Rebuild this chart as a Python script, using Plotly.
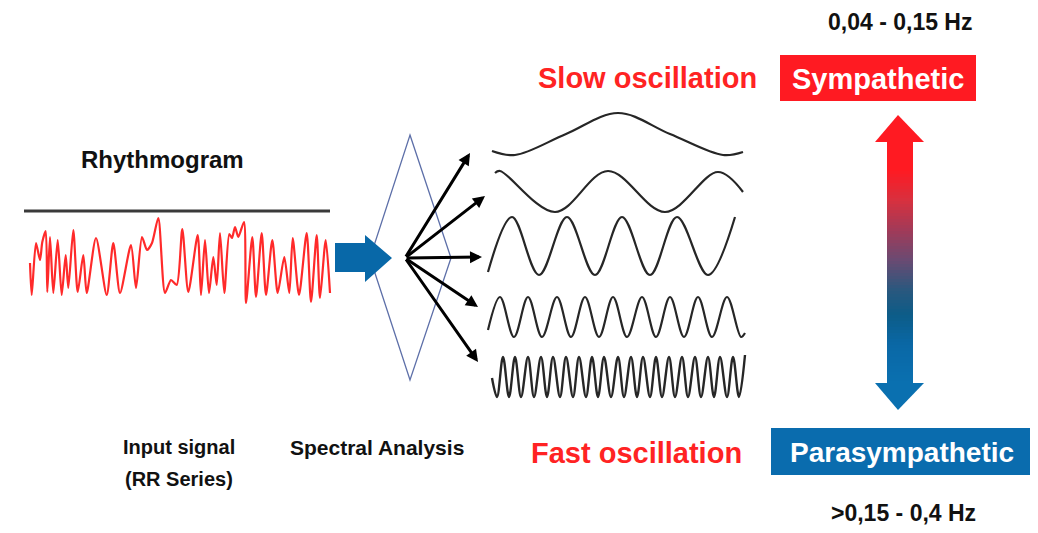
import plotly.graph_objects as go

W, H = 1038, 533
FONT = "Liberation Sans, Arial, sans-serif"

# ---------------- data ----------------
rr_x = [30, 31.7, 36, 40, 42.3, 45.7, 47.3, 50, 53.3, 57.7,
        61.7, 65.7, 68.3, 73.3, 77.7, 83.3, 86.7, 96, 106.7, 113.3,
        120, 131, 136, 142, 147, 152, 158.3, 165, 171, 176.7,
        182.3, 188.3, 197.7, 201, 205, 209, 213.3, 216.7, 220, 224.3,
        229.3, 232, 235, 238.3, 244, 246, 252.3, 256, 261.7, 266,
        272.3, 277.7, 284.3, 289.3, 292.7, 299, 306.7, 311, 316.7, 320,
        325.7, 330]
rr_y = [263, 295, 243, 260, 242, 231, 292, 237, 293, 240,
        295, 255, 288, 230, 292, 255, 293, 238, 295, 243,
        293, 245, 288, 237, 250, 243, 218, 293, 280, 285,
        229, 292, 235, 295, 240, 293, 257, 285, 233, 293,
        234, 238, 227, 237, 222, 303, 237, 297, 233, 295,
        240, 293, 257, 293, 238, 295, 233, 302, 235, 298,
        240, 293]

wave1_x = [492, 515, 566, 618, 670, 723, 743]
wave1_y = [151, 155, 134, 113, 134, 155, 152]

wave2_x = [495, 500, 555, 608, 665, 718, 743]
wave2_y = [173, 171, 212, 171, 212, 172, 192]

wave3_x = [488, 512, 539, 567, 595, 622, 650, 677, 708, 735]
wave3_y = [272, 217, 275, 217, 275, 217, 275, 217, 275, 217]

wave4_x = [488, 500, 514, 528, 542, 557, 571, 585, 599, 613, 627,
           642, 656, 670, 684, 698, 712, 727, 741, 745]
wave4_y = [330, 297, 337, 297, 337, 297, 337, 297, 337, 297, 337,
           297, 337, 297, 337, 297, 337, 297, 337, 333]

wave5_x = [492, 497, 503, 509, 515, 521, 528, 534, 541, 547, 553, 560,
           566, 573, 579, 586, 592, 598, 604, 611, 618, 624, 631, 637,
           643, 650, 656, 662, 669, 675, 682, 688, 695, 701, 708, 714,
           720, 727, 733, 739, 745]
wave5_y = [378, 397, 357, 397, 357, 397, 357, 397, 357, 397, 357, 397,
           357, 397, 357, 397, 357, 397, 357, 397, 357, 397, 357, 397,
           357, 397, 357, 397, 357, 397, 357, 397, 357, 397, 357, 397,
           357, 397, 357, 397, 355]

waves = [(wave1_x, wave1_y), (wave2_x, wave2_y), (wave3_x, wave3_y),
         (wave4_x, wave4_y), (wave5_x, wave5_y)]

# spectral decomposition arrows: tips
fan_tip_x = [470, 485, 482, 478, 478]
fan_tip_y = [153, 196, 257, 307, 362]
fan_origin = (405, 258)

# ---------------- figure ----------------
fig = go.Figure()

fig.add_trace(go.Scatter(x=rr_x, y=rr_y, mode="lines",
                         line=dict(color="#ff2a2a", width=2.2, shape="spline", smoothing=0.7),
                         hoverinfo="skip"))
for i, (wx, wy) in enumerate(waves):
    fig.add_trace(go.Scatter(x=wx, y=wy, mode="lines",
                             line=dict(color="#262626", width=2.2 if i < 4 else 2.4,
                                       shape="spline", smoothing=1.0),
                             hoverinfo="skip"))

shapes = []
# prism (diamond) - drawn first so the block arrow covers it
shapes.append(dict(type="path", path="M410,135 L451,258 L410,380 L370,258 Z",
                   fillcolor="rgba(0,0,0,0)", line=dict(color="#5d6fa8", width=1.3)))
# rhythmogram baseline
shapes.append(dict(type="line", x0=24, x1=330, y0=211, y1=211,
                   line=dict(color="#3a3a3a", width=3)))
# blue block arrow
shapes.append(dict(type="path",
                   path="M335,243 L365,243 L365,235 L392,258 L365,282 L365,272 L335,272 Z",
                   fillcolor="#0868a8", line=dict(width=0)))
# sympathetic / parasympathetic boxes
shapes.append(dict(type="rect", x0=780, x1=976, y0=55, y1=101,
                   fillcolor="#ff1a22", line=dict(width=0)))
shapes.append(dict(type="rect", x0=771, x1=1030, y0=428, y1=475,
                   fillcolor="#0a6cae", line=dict(width=0)))

# gradient double arrow
stops = [(142, (255, 26, 34)), (170, (255, 26, 34)), (200, (216, 48, 62)),
         (230, (162, 58, 88)), (260, (106, 74, 114)), (290, (42, 88, 126)),
         (315, (12, 92, 136)), (345, (10, 104, 166)), (383, (10, 112, 176))]


def col_at(y):
    for (y0, c0), (y1, c1) in zip(stops[:-1], stops[1:]):
        if y0 <= y <= y1:
            t = (y - y0) / (y1 - y0) if y1 > y0 else 0
            return "rgb(%d,%d,%d)" % tuple(round(a + (b - a) * t) for a, b in zip(c0, c1))
    return "rgb(%d,%d,%d)" % stops[-1][1]


yy = 141
while yy < 384:
    shapes.append(dict(type="rect", x0=887, x1=913, y0=yy, y1=yy + 3.5,
                       fillcolor=col_at(yy + 1.5), line=dict(width=0)))
    yy += 3
shapes.append(dict(type="path", path="M875,142 L898,115 L924,142 Z",
                   fillcolor="rgb(255,26,34)", line=dict(width=0)))
shapes.append(dict(type="path", path="M875,383 L898,410 L924,383 Z",
                   fillcolor="rgb(10,112,176)", line=dict(width=0)))

annotations = []
for tx, ty in zip(fan_tip_x, fan_tip_y):
    annotations.append(dict(x=tx, y=ty, ax=fan_origin[0], ay=fan_origin[1],
                            xref="x", yref="y", axref="x", ayref="y",
                            text="", showarrow=True, arrowhead=2, arrowsize=0.8,
                            arrowwidth=3, arrowcolor="#000000"))


def label(text, x, y, size, color="#111111", bold=True):
    annotations.append(dict(x=x, y=y, xref="x", yref="y", showarrow=False,
                            text=("<b>%s</b>" % text) if bold else text,
                            xanchor="center", yanchor="middle",
                            font=dict(family=FONT, size=size, color=color)))


label("0,04 - 0,15 Hz", 900, 22, 23)
label("Slow oscillation", 647, 78, 29, color="#ff2323")
label("Sympathetic", 878, 79, 29, color="#ffffff")
label("Rhythmogram", 162, 159, 24)
label("Input signal", 179, 447, 20)
label("(RR Series)", 179, 479, 20)
label("Spectral Analysis", 377, 447, 21)
label("Fast oscillation", 636, 453, 29, color="#ff2323")
label("Parasympathetic", 902, 452, 28, color="#ffffff")
label("&gt;0,15 - 0,4 Hz", 903, 513, 23)

fig.update_layout(
    width=W, height=H,
    margin=dict(l=0, r=0, t=0, b=0),
    paper_bgcolor="white", plot_bgcolor="white",
    showlegend=False,
    xaxis=dict(range=[0, W], visible=False, fixedrange=True),
    yaxis=dict(range=[H, 0], visible=False, fixedrange=True),
    shapes=shapes,
    annotations=annotations,
)

fig.write_html("out.html", config={"displayModeBar": False},
               post_script="document.body.style.margin='0';document.body.style.overflow='hidden';")
